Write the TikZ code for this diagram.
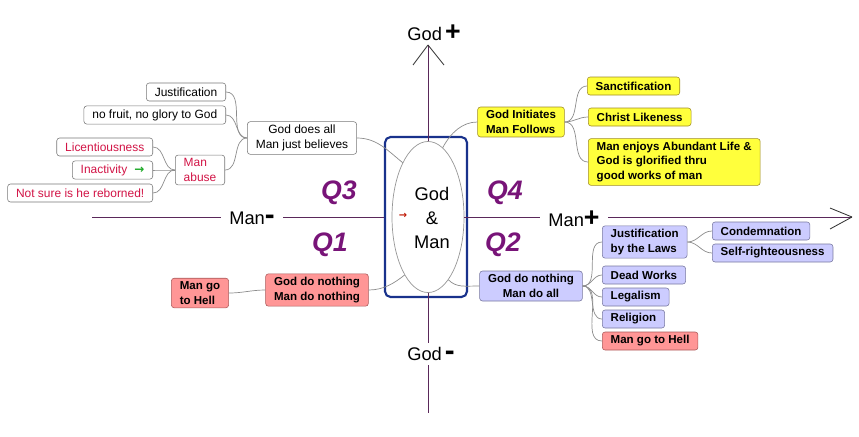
\documentclass[tikz,border=0pt]{standalone}
\usepackage{fontspec}
\setmainfont{Liberation Sans}
\newfontfamily\symfont{DejaVu Sans}
\usetikzlibrary{shapes.geometric}

\definecolor{axiscol}{RGB}{90,40,90}
\definecolor{framecol}{RGB}{25,50,140}
\definecolor{ovalcol}{RGB}{150,150,150}
\definecolor{linecol}{RGB}{140,140,140}
\definecolor{leafcol}{RGB}{120,120,120}
\definecolor{abusecol}{RGB}{210,20,70}
\definecolor{actgreen}{RGB}{30,170,40}
\definecolor{iconred}{RGB}{190,20,0}
\definecolor{quadcol}{RGB}{120,20,120}
\definecolor{yelfill}{RGB}{255,255,60}
\definecolor{yeldraw}{RGB}{160,140,40}
\definecolor{bluefill}{RGB}{204,204,255}
\definecolor{bluedraw}{RGB}{120,120,160}
\definecolor{pinkfill}{RGB}{255,150,150}
\definecolor{pinkdraw}{RGB}{170,90,90}

\newcommand{\bigplus}{{\fontsize{19}{19}\selectfont\bfseries +}}
\newcommand{\bigminus}{{\fontsize{21}{21}\selectfont\bfseries -}}

\tikzset{
  leaf/.style={draw=leafcol, fill=white, rounded corners=2pt, inner xsep=6pt,
    inner ysep=2.5pt, minimum height=0.45cm, align=left,
    font=\fontsize{8.5}{10.3}\selectfont},
  abusebox/.style={leaf, text=abusecol},
  boldleaf/.style={leaf, font=\fontsize{8.2}{10.3}\selectfont\bfseries},
  yelbox/.style={boldleaf, fill=yelfill, draw=yeldraw},
  bluebox/.style={boldleaf, fill=bluefill, draw=bluedraw},
  pinkbox/.style={boldleaf, fill=pinkfill, draw=pinkdraw},
  branch/.style={draw=linecol, line width=0.5pt},
  axis/.style={draw=axiscol, line width=0.6pt},
  barb/.style={draw=black!80, line width=0.6pt},
  axislabel/.style={font=\fontsize{13}{13}\selectfont, inner xsep=6pt, inner ysep=3pt},
  quad/.style={text=quadcol, font=\fontsize{19}{19}\selectfont\bfseries\itshape},
}

\begin{document}
\begin{tikzpicture}[x=0.025cm, y=-0.025cm]
  \useasboundingbox (0,0) rectangle (859,436);

  % centre: God & Man
  \node[draw=framecol, line width=1.5pt, rounded corners=4pt,
    minimum width=2.05cm, minimum height=4cm] (box) at (426,217) {};
  \node[ellipse, draw=ovalcol, line width=0.5pt, inner sep=0pt,
    minimum width=1.8cm, minimum height=3.775cm] (gm) at (428,217) {};
  \node[align=center, font=\fontsize{13}{17}\selectfont] (gmtext) at (432,218) {God\\\&\\Man};
  \node[font=\symfont\bfseries\fontsize{7}{7}\selectfont, text=iconred] (gmicon) at (403,216) {→};

  % axis labels
  \node[axislabel] (godp) at (434,33) {God\,\bigplus};
  \node[axislabel] (godm) at (431,354) {God\,\bigminus};
  \node[axislabel] (manm) at (252,218) {Man\bigminus};
  \node[axislabel] (manp) at (574,219) {Man\bigplus};

  % axes
  \coordinate (ytip) at (428,45);
  \coordinate (ybot) at (428,413);
  \coordinate (xleft) at (92,217);
  \coordinate (xtip) at (852,217);
  \draw[axis] (gm.north) -- (ytip);
  \draw[axis] (gm.south) -- (gm.south |- godm.north);
  \draw[axis] (gm.south |- godm.south) -- (ybot);
  \draw[axis] (xleft) -- (xleft -| manm.west);
  \draw[axis] (manm.east |- xleft) -- (box.west);
  \draw[axis] (gm.east) -- (gm.east -| manp.west);
  \draw[axis] (manp.east |- gm.east) -- (xtip);
  % open arrow heads
  \draw[barb] (ytip) -- +(-15,20);
  \draw[barb] (ytip) -- +(16,20);
  \draw[barb] (xtip) -- +(-22,-9);
  \draw[barb] (xtip) -- +(-22,12);

  % quadrants
  \node[quad] (q3) at (339,193) {Q3};
  \node[quad] (q1) at (330,245) {Q1};
  \node[quad] (q4) at (505,193) {Q4};
  \node[quad] (q2) at (503,245) {Q2};

  % Q3: God does all
  \node[leaf, align=center] (gda) at (302,138) {God does all\\Man just believes};
  \node[leaf, anchor=east] (just) at (226,92) {Justification};
  \node[leaf, anchor=east] (nofruit) at (226,115) {no fruit, no glory to God};
  \node[abusebox] (abuse) at (200,170) {Man\\abuse};
  \node[abusebox, anchor=east] (lic) at (153,147) {Licentiousness};
  \node[abusebox, anchor=east] (inact) at (153,170) {Inactivity\hspace{5pt}{\symfont\bfseries\textcolor{actgreen}{→}}};
  \node[abusebox, anchor=east] (notsure) at (153,193) {Not sure is he reborned!};
  \foreach \n in {just,nofruit,abuse}
    \draw[branch] (\n.east) to[out=0,in=180] (gda.west);
  \foreach \n in {lic,inact,notsure}
    \draw[branch] (\n.east) to[out=0,in=180] (abuse.west);
  \draw[branch] (gda.east) .. controls +(20,0) and +(-15,-12) .. (gm.115);

  % Q4: God initiates
  \node[yelbox] (gif) at (521,122) {God Initiates\\Man Follows};
  \node[yelbox, anchor=west] (sanct) at (587,86) {Sanctification};
  \node[yelbox, anchor=west] (christ) at (588,117) {Christ Likeness};
  \node[yelbox, anchor=west] (enjoy) at (588,162) {Man enjoys Abundant Life \&\\God is glorified thru\\good works of man};
  \draw[branch] (gm.78) .. controls +(8,-15) and +(-15,0) .. (gif.west);
  \foreach \n in {sanct,christ,enjoy}
    \draw[branch] (gif.east) to[out=0,in=180] (\n.west);

  % Q1: God do nothing, man do nothing
  \node[pinkbox, align=center] (gdn) at (317,290) {God do nothing\\Man do nothing};
  \node[pinkbox] (hellq1) at (200,293) {Man go\\to Hell};
  \draw[branch] (hellq1.east) to[out=0,in=180] (gdn.west);
  \draw[branch] (gdn.east) .. controls +(15,0) and +(-10,8) .. (gm.248);

  % Q2: God do nothing, man do all
  \node[bluebox, align=center] (gdma) at (531,286) {God do nothing\\Man do all};
  \node[bluebox, anchor=west] (jbl) at (602,242) {Justification\\by the Laws};
  \node[bluebox, anchor=west] (cond) at (712,231) {Condemnation};
  \node[bluebox, anchor=west] (selfr) at (712,253) {Self-righteousness};
  \node[bluebox, anchor=west] (dead) at (602,275) {Dead Works};
  \node[bluebox, anchor=west] (legal) at (602,297) {Legalism};
  \node[bluebox, anchor=west] (relig) at (602,319) {Religion};
  \node[pinkbox, anchor=west] (hellq2) at (602,341) {Man go to Hell};
  \draw[branch] (gm.288) .. controls +(8,8) and +(-15,0) .. (gdma.west);
  \foreach \n in {jbl,dead,legal,relig,hellq2}
    \draw[branch] (gdma.east) to[out=0,in=180] (\n.west);
  \foreach \n in {cond,selfr}
    \draw[branch] (jbl.east) to[out=0,in=180] (\n.west);
\end{tikzpicture}
\end{document}
